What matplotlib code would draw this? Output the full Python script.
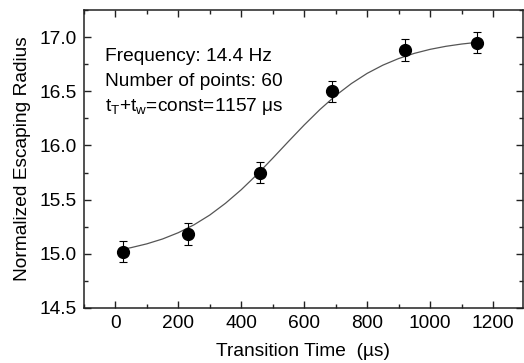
import numpy as np
import matplotlib
matplotlib.use('Agg')
import matplotlib.pyplot as plt
from matplotlib.ticker import MultipleLocator, FormatStrFormatter

plt.rcParams['font.family'] = ['Liberation Sans', 'DejaVu Sans']
plt.rcParams['mathtext.default'] = 'regular'

# measured points
t_trans = [23, 231, 459, 688, 920, 1150]
radius = [15.02, 15.18, 15.75, 16.50, 16.88, 16.95]
radius_err = [0.10, 0.10, 0.10, 0.10, 0.10, 0.10]

# fitted curve
fit_t = [20, 50, 100, 150, 200, 250, 300, 350, 400, 450, 500, 550,
         600, 650, 700, 750, 800, 850, 900, 950, 1000, 1050, 1100, 1150]
fit_r = [15.039, 15.056, 15.091, 15.136, 15.194, 15.267, 15.357, 15.466,
         15.591, 15.731, 15.882, 16.037, 16.189, 16.332, 16.461, 16.572,
         16.666, 16.742, 16.803, 16.851, 16.888, 16.916, 16.937, 16.953]

notes = ['Frequency: 14.4 Hz',
         'Number of points: 60',
         r't$_\mathregular{T}$+t$_\mathregular{w}$=const=1157 $\mu$s']

fs = 13.8

fig = plt.figure(figsize=(5.24, 3.63), dpi=100)
ax = fig.add_axes([0.160, 0.152, 0.838, 0.820])

ax.plot(fit_t, fit_r, color='#555555', lw=0.9, zorder=2)
ax.errorbar(t_trans, radius, yerr=radius_err, fmt='o', color='black',
            ms=8.5, elinewidth=0.8, capsize=3.2, capthick=0.8, zorder=3)

ax.set_xlim(-100, 1295)
ax.set_ylim(14.5, 17.25)
ax.xaxis.set_major_locator(MultipleLocator(200))
ax.xaxis.set_minor_locator(MultipleLocator(100))
ax.yaxis.set_major_locator(MultipleLocator(0.5))
ax.yaxis.set_minor_locator(MultipleLocator(0.25))
ax.yaxis.set_major_formatter(FormatStrFormatter('%.1f'))
ax.tick_params(which='both', direction='in', top=True, right=True,
               labelsize=fs, color='#222222', pad=5)
ax.tick_params(which='major', length=5, width=1)
ax.tick_params(which='minor', length=3, width=1)
for s in ax.spines.values():
    s.set_linewidth(1.1)
    s.set_color('#222222')

ax.set_xlabel('Transition Time  (\u00b5s)', fontsize=fs, labelpad=8)
ax.set_ylabel('Normalized Escaping Radius', fontsize=fs, labelpad=6)

for i, txt in enumerate(notes):
    ax.text(0.048, 0.830 - i * 0.084, txt, transform=ax.transAxes,
            fontsize=fs, va='baseline')

plt.savefig('out.png', dpi=100)
